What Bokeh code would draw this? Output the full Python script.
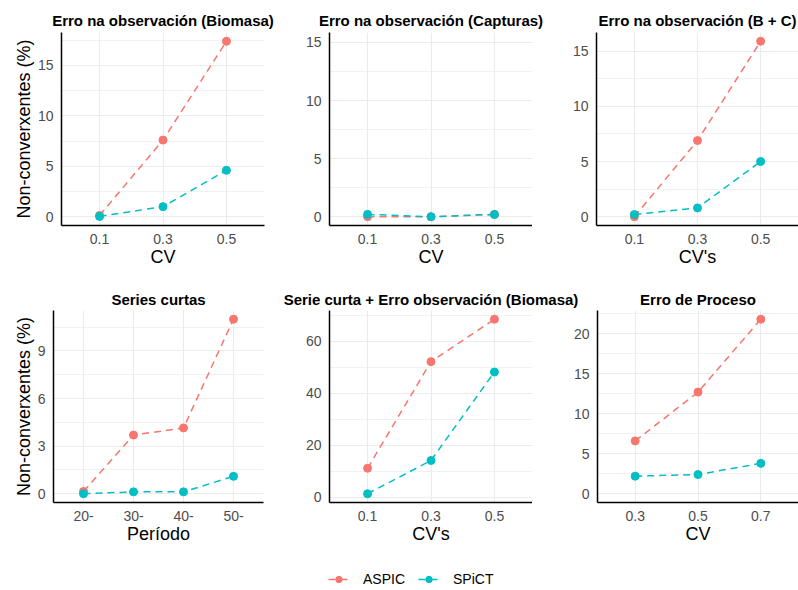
from bokeh.plotting import figure
from bokeh.models import (FactorRange, Range1d, SingleIntervalTicker, Legend, LegendItem,
                          ColumnDataSource, Label)
from bokeh.layouts import column, row
from bokeh.embed import file_html
from bokeh.resources import INLINE

# ---------------- data ----------------
cv_obs = ["0.1", "0.3", "0.5"]
biomasa_aspic = [0.13, 7.6, 17.4]
biomasa_spict = [0.03, 1.0, 4.6]

capturas_aspic = [0.0, 0.0, 0.2]
capturas_spict = [0.2, 0.0, 0.2]

bc_aspic = [0.0, 6.9, 15.9]
bc_spict = [0.2, 0.8, 5.0]

periodo = ["20-", "30-", "40-", "50-"]
series_aspic = [0.15, 3.7, 4.15, 11.0]
series_spict = [0.0, 0.12, 0.12, 1.1]

sc_aspic = [11.2, 52.2, 68.5]
sc_spict = [1.4, 14.2, 48.2]

cv_proc = ["0.3", "0.5", "0.7"]
proc_aspic = [6.6, 12.7, 21.8]
proc_spict = [2.2, 2.4, 3.8]

series_names = ["ASPIC", "SPiCT"]

titles_top = ["Erro na observación (Biomasa)", "Erro na observación (Capturas)",
              "Erro na observación (B + C)"]
titles_bottom = ["Series curtas", "Serie curta + Erro observación (Biomasa)",
                 "Erro de Proceso"]

# ---------------- style / layout ----------------
FONT = "Liberation Sans"
C_ASPIC = "#F8766D"
C_SPICT = "#00BFC4"
GRID = "#EBEBEB"
YLAB = "Non-converxentes (%)"
W = 798
COL_W = 266
STRIP1_H, STRIP2_H = 30, 28
ROW1_H, ROW2_H = 280, 270
LEFT1, FW1 = [61, 63, 64], [203, 203, 202]
LEFT2, FW2 = [53, 63, 65], [210, 203, 201]


def make_panel(cats, aspic, spict, xlabel, ylabel, interval, height,
               bl, fw, bt, bb, extra=()):
    vals = list(aspic) + list(spict) + list(extra)
    lo, hi = min(vals), max(vals)
    pad = 0.05 * (hi - lo)
    p = figure(width=COL_W, height=height, title=None,
               x_range=FactorRange(factors=cats, range_padding=0.1,
                                   range_padding_units="absolute"),
               y_range=Range1d(lo - pad, hi + pad),
               output_backend="svg", toolbar_location=None,
               min_border_left=bl, min_border_right=max(COL_W - bl - fw, 0),
               min_border_top=bt, min_border_bottom=bb)
    p.outline_line_color = None
    p.background_fill_color = "white"
    p.border_fill_color = "white"

    t = SingleIntervalTicker(interval=interval, num_minor_ticks=2)
    p.yaxis.ticker = t
    p.ygrid.ticker = t

    for ax in (p.xaxis, p.yaxis):
        ax.axis_line_color = "black"
        ax.axis_line_width = 1.5
        ax.major_tick_line_color = None
        ax.minor_tick_line_color = None
        ax.major_tick_out = 0
        ax.minor_tick_out = 0
        ax.major_tick_in = 0
        ax.minor_tick_in = 0
        ax.major_label_text_font = FONT
        ax.major_label_text_font_size = "14px"
        ax.major_label_text_color = "#4D4D4D"
        ax.axis_label_text_font = FONT
        ax.axis_label_text_font_size = "18px"
        ax.axis_label_text_font_style = "normal"
        ax.axis_label_text_color = "black"
    p.xaxis.major_label_standoff = 8
    p.xaxis.axis_label_standoff = 0
    p.yaxis.major_label_standoff = 8
    p.yaxis.axis_label_standoff = 1
    p.xaxis.axis_label = xlabel
    if ylabel:
        p.yaxis.axis_label = ylabel

    p.xgrid.grid_line_color = GRID
    p.xgrid.grid_line_width = 1.1
    p.ygrid.grid_line_color = GRID
    p.ygrid.grid_line_width = 1.1
    p.ygrid.minor_grid_line_color = GRID
    p.ygrid.minor_grid_line_width = 0.7

    src_a = ColumnDataSource(dict(x=cats, y=aspic))
    src_s = ColumnDataSource(dict(x=cats, y=spict))
    p.line("x", "y", source=src_a, color=C_ASPIC, line_width=1.5, line_dash="7 5")
    p.line("x", "y", source=src_s, color=C_SPICT, line_width=1.5, line_dash="7 5")
    p.scatter("x", "y", source=src_a, color=C_ASPIC, size=8)
    p.scatter("x", "y", source=src_s, color=C_SPICT, size=8)
    return p


def title_strip(texts, lefts, fws, h, baseline):
    s = figure(width=W, height=h, title=None, x_axis_type=None, y_axis_type=None,
               x_range=Range1d(0, W), y_range=Range1d(0, h),
               output_backend="svg", toolbar_location=None,
               min_border_left=0, min_border_right=0, min_border_top=0, min_border_bottom=0)
    s.outline_line_color = None
    s.grid.visible = False
    for i, txt in enumerate(texts):
        cx = i * COL_W + lefts[i] + fws[i] / 2
        s.add_layout(Label(x=cx, y=baseline, text=txt, text_align="center",
                           text_baseline="alphabetic", text_font=FONT,
                           text_font_size="15px", text_font_style="bold",
                           text_color="black"))
    return s


b1 = ROW1_H - STRIP1_H
b2 = ROW2_H - STRIP2_H
p1 = make_panel(cv_obs, biomasa_aspic, biomasa_spict, "CV", YLAB, 5, b1,
                LEFT1[0], FW1[0], 32 - STRIP1_H, 55, extra=(0,))
p2 = make_panel(cv_obs, capturas_aspic, capturas_spict, "CV", None, 5, b1,
                LEFT1[1], FW1[1], 32 - STRIP1_H, 55, extra=(0, 15.1))
p3 = make_panel(cv_obs, bc_aspic, bc_spict, "CV's", None, 5, b1,
                LEFT1[2], FW1[2], 32 - STRIP1_H, 55, extra=(0,))
p4 = make_panel(periodo, series_aspic, series_spict, "Período", YLAB, 3, b2,
                LEFT2[0], FW2[0], 30 - STRIP2_H, 48, extra=(0,))
p5 = make_panel(cv_obs, sc_aspic, sc_spict, "CV's", None, 20, b2,
                LEFT2[1], FW2[1], 30 - STRIP2_H, 48)
p6 = make_panel(cv_proc, proc_aspic, proc_spict, "CV", None, 5, b2,
                LEFT2[2], FW2[2], 30 - STRIP2_H, 48, extra=(0,))

t1 = title_strip(titles_top, LEFT1, FW1, STRIP1_H, STRIP1_H - 20)
t2 = title_strip(titles_bottom, LEFT2, FW2, STRIP2_H, STRIP2_H - 18.5)

# ---------------- legend ----------------
leg = figure(width=W, height=40, title=None, x_axis_type=None, y_axis_type=None,
             output_backend="svg", toolbar_location=None,
             min_border_left=0, min_border_right=0, min_border_top=0, min_border_bottom=0)
leg.outline_line_color = None
leg.grid.visible = False
nan = float("nan")
proxy_a = ColumnDataSource(dict(x=[nan], y=[nan]))
proxy_s = ColumnDataSource(dict(x=[nan], y=[nan]))
la = leg.line("x", "y", source=proxy_a, color=C_ASPIC, line_width=1.5, line_dash="7 5")
sa = leg.scatter("x", "y", source=proxy_a, color=C_ASPIC, size=8)
ls = leg.line("x", "y", source=proxy_s, color=C_SPICT, line_width=1.5, line_dash="7 5")
ss = leg.scatter("x", "y", source=proxy_s, color=C_SPICT, size=8)
legend = Legend(items=[LegendItem(label=series_names[0], renderers=[la, sa], index=0),
                       LegendItem(label=series_names[1], renderers=[ls, ss], index=0)],
                orientation="horizontal", location=(328, 3),
                glyph_width=21, glyph_height=16, label_height=16,
                label_standoff=14, spacing=13, padding=0, margin=0,
                border_line_color=None, background_fill_alpha=0,
                label_text_font=FONT, label_text_font_size="14px",
                label_text_color="black")
leg.add_layout(legend, "center")

layout = column(t1, row(p1, p2, p3), t2, row(p4, p5, p6), leg)

open("out.html", "w").write(file_html(layout, INLINE))
